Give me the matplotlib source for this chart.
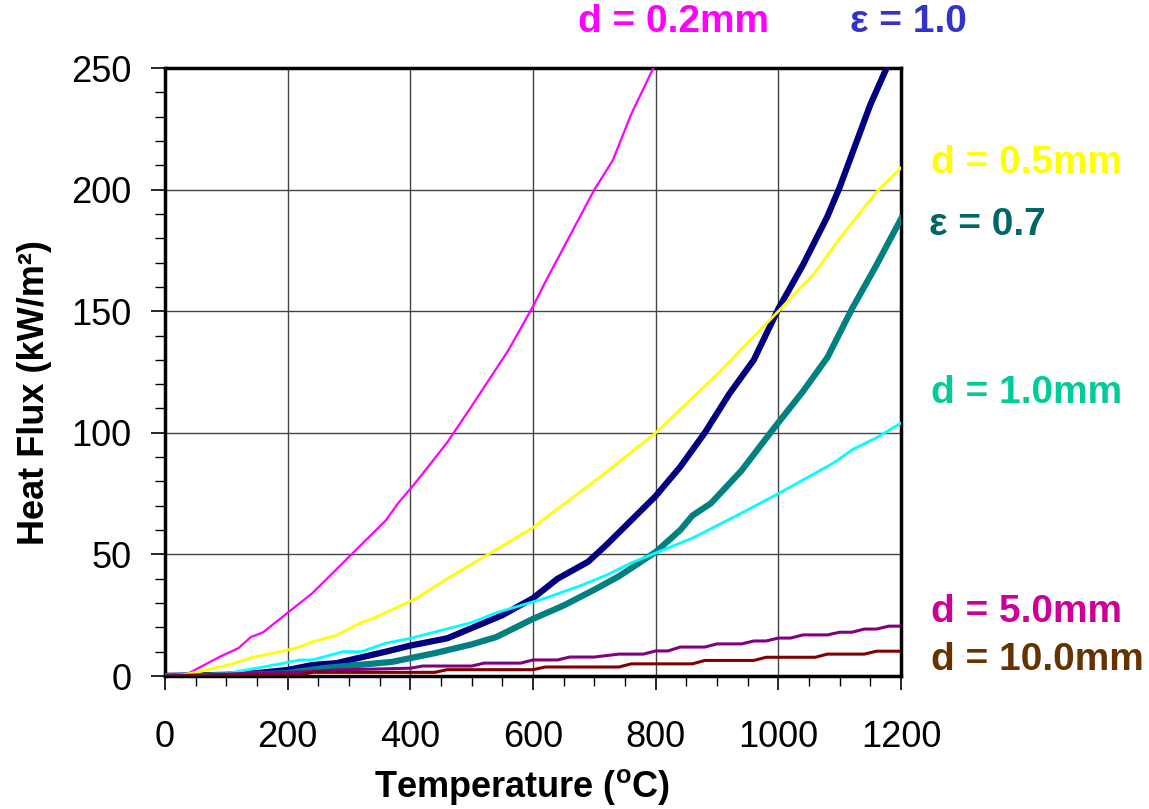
import matplotlib
matplotlib.use("Agg")
import matplotlib.pyplot as plt
from matplotlib.ticker import MultipleLocator

plt.rcParams['font.family'] = ['Liberation Sans', 'DejaVu Sans']
plt.rcParams['mathtext.fontset'] = 'custom'
plt.rcParams['mathtext.rm'] = 'Liberation Sans'
plt.rcParams['mathtext.bf'] = 'Liberation Sans:bold'

# emissivity curves
t_eps10 = [0, 100, 150, 200, 240, 280, 300, 360, 400, 460, 500, 550, 600, 640, 690,
           720, 760, 800, 820, 840, 860, 880, 920, 960, 1000, 1040, 1080, 1100, 1150,
           1180, 1200]
q_eps10 = [0, 0.5, 1.2, 2.5, 4.5, 5.3, 6.5, 10, 12.5, 15.5, 19.7, 25, 32, 40, 47,
           54, 64, 74, 80, 86, 93, 100, 116, 130, 151, 169, 189, 201, 235,
           252, 262]

t_eps07 = [0, 100, 200, 260, 300, 370, 440, 500, 540, 600, 650, 700, 740, 800, 840,
           860, 890, 940, 990, 1040, 1080, 1120, 1160, 1200]
q_eps07 = [0, 0.2, 1.2, 3.3, 4.2, 5.8, 9.4, 13, 16, 23.5, 29, 35.5, 41, 51, 60,
           66, 71, 84.5, 101, 117, 131, 151, 169, 188]

# thickness curves
t_d02 = [0, 30, 60, 90, 120, 140, 160, 200, 240, 300, 360, 380, 410, 460, 500, 560,
         600, 620, 660, 700, 730, 760, 800]
q_d02 = [0, 0, 4, 8, 11.5, 16, 18, 26, 34, 49, 64, 71, 80, 96, 111, 134,
         152, 162, 181, 200, 212, 231, 252]

t_d05 = [0, 30, 60, 110, 140, 200, 220, 240, 280, 320, 340, 380, 410, 460, 500, 540,
         600, 620, 700, 760, 800, 850, 900, 1000, 1060, 1100, 1160, 1200]
q_d05 = [0, 0.5, 2, 5, 7.5, 10.7, 12, 14, 16.8, 22, 23.8, 28.4, 32, 40, 46, 52,
         61, 65, 80, 92, 100, 112, 124, 150, 166, 180, 199, 209]

t_d10 = [0, 100, 160, 220, 240, 290, 320, 360, 400, 500, 540, 620, 680, 720, 760,
         800, 860, 940, 1000, 1050, 1090, 1120, 1160, 1200]
q_d10 = [0, 1, 3.7, 6.6, 6.6, 10, 10, 13.5, 15.5, 22, 26, 32, 37.4, 41.5, 46.5,
         50.6, 56.7, 67, 75, 82, 87.6, 93, 98, 104]

t_d50 = [0, 150, 220, 280, 400, 420, 500, 520, 580, 600, 640, 660, 700, 740, 780,
         800, 820, 840, 880, 900, 940, 960, 980, 1000, 1020, 1040, 1080, 1100, 1120,
         1140, 1160, 1180, 1200]
q_d50 = [0, 1.2, 1.6, 2.5, 3.2, 4.1, 4.1, 5.3, 5.3, 6.6, 6.6, 7.8, 7.8, 9, 9,
         10.3, 10.3, 11.9, 11.9, 13.2, 13.2, 14.4, 14.4, 15.6, 15.6, 16.9, 16.9, 18, 18,
         19.3, 19.3, 20.5, 20.5]

t_d100 = [0, 220, 240, 440, 460, 600, 620, 740, 760, 860, 880, 960, 980, 1060, 1080,
          1140, 1160, 1200]
q_d100 = [0, 0.3, 1.5, 1.5, 2.6, 2.6, 3.7, 3.7, 5, 5, 6.4, 6.4, 7.7, 7.7, 9,
          9, 10.2, 10.2]

fig = plt.figure(figsize=(11.49, 8.09), dpi=100)
ax = fig.add_axes([0.1436, 0.1644, 0.6406, 0.7515])

ax.plot(t_eps10, q_eps10, color='#000080', lw=4.5, zorder=3)
ax.plot(t_eps07, q_eps07, color='#008080', lw=4.5, zorder=3)
ax.plot(t_d02, q_d02, color='#FF00FF', lw=1.6, zorder=4)
ax.plot(t_d05, q_d05, color='#FFFF00', lw=2, zorder=4)
ax.plot(t_d10, q_d10, color='#00FFFF', lw=2, zorder=4)
ax.plot(t_d50, q_d50, color='#800080', lw=2.2, zorder=4)
ax.plot(t_d100, q_d100, color='#800000', lw=2.2, zorder=4)

ax.set_xlim(0, 1200)
ax.set_ylim(0, 250)
ax.xaxis.set_major_locator(MultipleLocator(200))
ax.xaxis.set_minor_locator(MultipleLocator(50))
ax.yaxis.set_major_locator(MultipleLocator(50))
ax.yaxis.set_minor_locator(MultipleLocator(10))
ax.grid(True, which='major', color='#444444', lw=1.0)
ax.set_axisbelow(True)

for s in ax.spines.values():
    s.set_linewidth(2.5)
ax.tick_params(which='major', length=10, width=1.2, labelsize=26)
ax.tick_params(axis='x', which='major', pad=22)
ax.tick_params(axis='y', which='major', pad=14)
ax.tick_params(which='minor', length=7, width=1.0)

ax.set_xlabel(r'Temperature ($\mathbf{^o}$C)', fontsize=26, fontweight='bold')
ax.set_ylabel('Heat Flux (kW/m²)', fontsize=26, fontweight='bold')
ax.xaxis.set_label_coords(0.485, -0.150)
ax.yaxis.set_label_coords(-0.154, 0.467)

lbl = dict(fontsize=28, fontweight='bold', transform=fig.transFigure, va='center')
fig.text(673 / 1149, 1 - 22 / 809, 'd = 0.2mm', color='#FF00FF', ha='center', **lbl)
fig.text(908 / 1149, 1 - 22 / 809, 'ε = 1.0', color='#3333CC', ha='center', **lbl)
fig.text(931 / 1149, 1 - 163 / 809, 'd = 0.5mm', color='#FFFF00', ha='left', **lbl)
fig.text(929 / 1149, 1 - 225 / 809, 'ε = 0.7', color='#006666', ha='left', **lbl)
fig.text(931 / 1149, 1 - 393 / 809, 'd = 1.0mm', color='#00CC99', ha='left', **lbl)
fig.text(931 / 1149, 1 - 612 / 809, 'd = 5.0mm', color='#CC0099', ha='left', **lbl)
fig.text(931 / 1149, 1 - 660 / 809, 'd = 10.0mm', color='#663300', ha='left', **lbl)

fig.savefig('out.png', dpi=100)
